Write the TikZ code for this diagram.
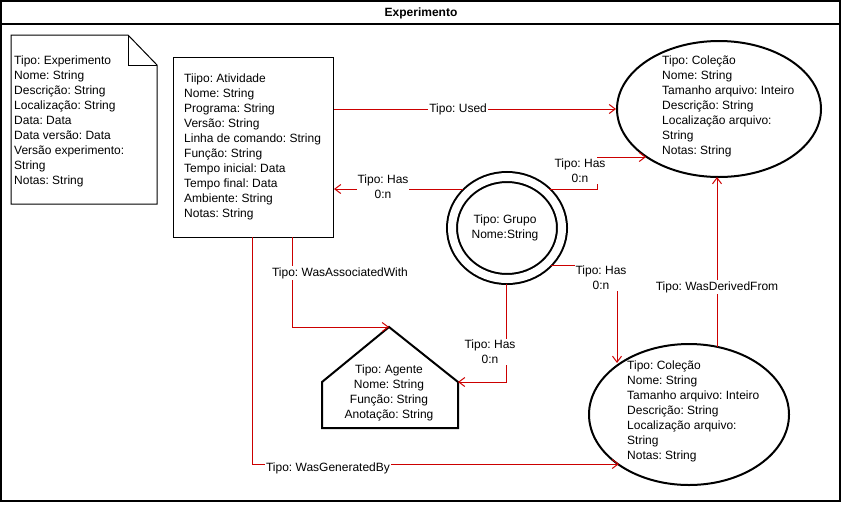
\documentclass[tikz,border=0pt]{standalone}
\usepackage{fontspec}
\setmainfont{Liberation Sans}
\usetikzlibrary{arrows.meta,shapes.geometric,calc}
\definecolor{relred}{RGB}{204,0,0}
\frenchspacing
\begin{document}
\begin{tikzpicture}[x=1pt,y=-1pt,
  rel/.style={draw=relred,line width=1pt,-{Straight Barb[length=6pt,width=9pt]}},
  lbl/.style={font=\fontsize{12}{15}\selectfont,fill=white,inner sep=1pt,align=center},
  txt/.style={font=\fontsize{12}{15}\selectfont,align=left,inner sep=0pt,anchor=north west},
  ctxt/.style={font=\fontsize{12}{15}\selectfont,align=center,inner sep=0pt,anchor=north},
  ell/.style={ellipse,draw,line width=2pt,inner sep=0pt},
  shp/.style={draw,line width=2pt,line join=miter},
]
\useasboundingbox (0,0) rectangle (842,504);
% frame
\draw[line width=2pt] (1,1) rectangle (840,501);
\draw[line width=2pt] (1,23.5) -- (840,23.5);
\node[font=\bfseries\fontsize{12}{15}\selectfont] (title) at (421,13) {Experimento};

% document note
\draw[line width=1pt] (11,35) -- (128,35) -- (157,65) -- (157,204) -- (11,204) -- cycle;
\draw[line width=1pt] (128,35) -- (128,65) -- (157,65);
\node[txt] (doctxt) at (14,54) {\strut Tipo: Experimento\\Nome: String\\Descrição: String\\Localização: String\\Data: Data\\Data versão: Data\\Versão experimento:\\String\\Notas: String};

% activity
\node[draw,line width=1pt,minimum width=160pt,minimum height=180pt,inner sep=0pt,anchor=north west] (act) at (173,57) {};
\node[txt] (acttxt) at (184,72) {\strut Tiipo: Atividade\\Nome: String\\Programa: String\\Versão: String\\Linha de comando: String\\Função: String\\Tempo inicial: Data\\Tempo final: Data\\Ambiente: String\\Notas: String};

% collections
\node[ell,minimum width=204pt,minimum height=136pt] (col1) at (719,109) {};
\node[txt] (col1txt) at (662,54) {\strut Tipo: Coleção\\Nome: String\\Tamanho arquivo: Inteiro\\Descrição: String\\Localização arquivo:\\String\\Notas: String};
\node[ell,minimum width=200pt,minimum height=141pt] (col2) at (689,414.5) {};
\node[txt] (col2txt) at (627,359) {\strut Tipo: Coleção\\Nome: String\\Tamanho arquivo: Inteiro\\Descrição: String\\Localização arquivo:\\String\\Notas: String};

% group
\node[ellipse,draw,line width=2pt,double,double distance=8pt,minimum width=110pt,minimum height=102pt,inner sep=0pt] (grp) at (507,228) {};
\node[ctxt] (grptxt) at (505,213) {\strut Tipo: Grupo\\Nome:String};

% agent
\draw[shp] (322,428) -- (322,382) -- (389,327) -- (458,382) -- (458,428) -- cycle;
\coordinate (agtop) at (389,327);
\coordinate (agright) at (458,382);
\node[ctxt] (agtxt) at (389,363) {\strut Tipo: Agente\\Nome: String\\Função: String\\Anotação: String};

% connector points
\coordinate (g1) at (463,189);
\coordinate (g2) at (549,189);
\coordinate (k3) at (597,157);
\coordinate (c1h) at (646,157);
\coordinate (g3) at (551,265);
\coordinate (c2t) at (617,363);
\coordinate (g4) at (506,284);
\coordinate (a1) at (292,237);
\coordinate (a2) at (252,237);
\coordinate (c2g) at (619,464);
\coordinate (c2n) at (717,347);
\coordinate (c1s) at (717,177);

% connectors
\draw[rel] (act.east |- col1.west) -- node[lbl,pos=0.44] (lused) {Tipo: Used} (col1.west);
\draw[rel] (g1) -- node[lbl,pos=0.62,yshift=2pt] (lhas1) {Tipo: Has\\0:n} (act.east |- g1);
\draw[rel] (g2) -| (k3) -- (c1h);
\node[lbl] (lhas2) at (580,171) {Tipo: Has\\0:n};
\draw[rel] (g3) -| (c2t);
\node[lbl] (lhas3) at (601,278) {Tipo: Has\\0:n};
\draw[rel] (g4) |- (agright);
\node[lbl] (lhas4) at (490,352) {Tipo: Has\\0:n};
\draw[rel] (a1) |- (agtop);
\node[lbl] (lassoc) at (340,273) {Tipo: WasAssociatedWith};
\draw[rel] (a2) |- (c2g);
\node[lbl] (lgen) at (328,468) {Tipo: WasGeneratedBy};
\draw[rel] (c2n) -- (c1s);
\node[lbl] (lder) at (717,287) {Tipo: WasDerivedFrom};
\end{tikzpicture}
\end{document}
